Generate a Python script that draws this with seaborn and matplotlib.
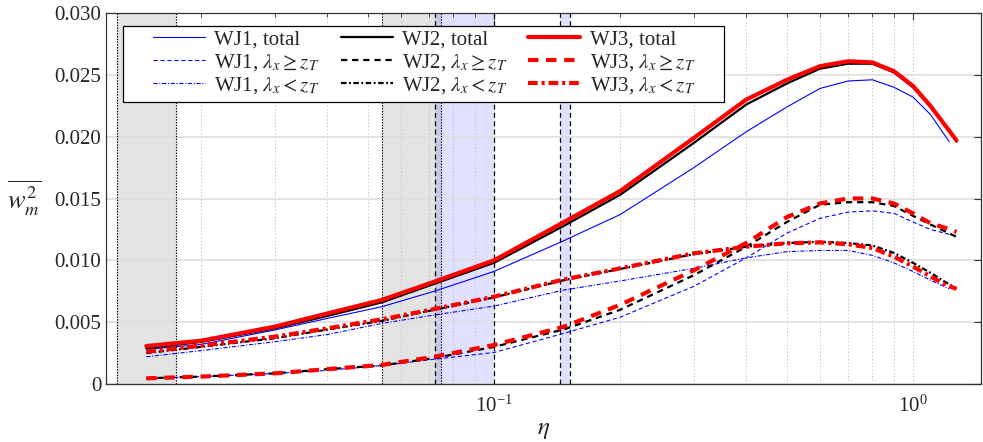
import numpy as np
import pandas as pd
import matplotlib
matplotlib.use("Agg")
import matplotlib.pyplot as plt
import seaborn as sns
from matplotlib.patches import Rectangle
from matplotlib.ticker import FixedLocator, FuncFormatter, LogLocator, NullFormatter

sns.set_style("white")
plt.rcParams["font.family"] = ["Liberation Serif", "DejaVu Serif"]
plt.rcParams["mathtext.fontset"] = "stix"
plt.rcParams["lines.scale_dashes"] = False

# ---------------- data ----------------
eta_23 = [0.0148, 0.02, 0.03, 0.04, 0.054, 0.072, 0.1, 0.147, 0.2, 0.3, 0.4,
          0.5, 0.6, 0.7, 0.8, 0.9, 1.0, 1.1, 1.2, 1.27]
eta_1 = [0.0148, 0.02, 0.03, 0.04, 0.054, 0.072, 0.1, 0.147, 0.2, 0.3, 0.4,
         0.5, 0.6, 0.7, 0.8, 0.9, 1.0, 1.1, 1.22]

wj1_total = [0.0028, 0.0032, 0.00437, 0.0053, 0.00625, 0.0075, 0.0091, 0.0116,
             0.0137, 0.0175, 0.0204, 0.0224, 0.0239, 0.0245, 0.0246, 0.0240,
             0.0232, 0.0218, 0.0196]
wj1_large = [0.00046, 0.0006, 0.00085, 0.0011, 0.0015, 0.0020, 0.00255, 0.0041,
             0.0054, 0.0079, 0.0102, 0.0122, 0.0134, 0.0139, 0.0140, 0.0138,
             0.0131, 0.0125, 0.0121]
wj1_small = [0.0022, 0.0027, 0.00342, 0.0040, 0.0049, 0.00558, 0.0063, 0.0076,
             0.00833, 0.00935, 0.0102, 0.0107, 0.0108, 0.0108, 0.0104, 0.0098,
             0.0091, 0.0084, 0.0077]

wj2_total = [0.00289, 0.0034, 0.0045, 0.0055, 0.0066, 0.0081, 0.0098, 0.0128,
             0.0153, 0.0195, 0.0226, 0.0243, 0.0255, 0.0259, 0.0259, 0.0252,
             0.0240, 0.0224, 0.0208, 0.0196]
wj2_large = [0.00046, 0.0006, 0.00086, 0.0012, 0.0015, 0.0021, 0.0030, 0.00442,
             0.0060, 0.0088, 0.0111, 0.0131, 0.0145, 0.0147, 0.0147, 0.0144,
             0.0136, 0.0129, 0.0123, 0.0119]
wj2_small = [0.0025, 0.0030, 0.0037, 0.0044, 0.0051, 0.0060, 0.0070, 0.0084,
             0.0093, 0.0105, 0.0111, 0.0114, 0.0115, 0.0114, 0.0112, 0.0106,
             0.0098, 0.0090, 0.0082, 0.0077]

wj3_total = [0.00307, 0.0035, 0.00464, 0.0057, 0.0068, 0.00827, 0.0100, 0.0131,
             0.0156, 0.0199, 0.0230, 0.0246, 0.0257, 0.0261, 0.0260, 0.0253,
             0.0241, 0.0225, 0.0208, 0.0197]
wj3_large = [0.00046, 0.0006, 0.00086, 0.0012, 0.00154, 0.0022, 0.00315, 0.00464,
             0.0064, 0.0092, 0.0114, 0.0135, 0.0146, 0.0150, 0.0150, 0.0146,
             0.0138, 0.0130, 0.0126, 0.0123]
wj3_small = [0.00262, 0.0031, 0.00383, 0.0045, 0.00523, 0.00606, 0.00706, 0.00846,
             0.00935, 0.01057, 0.0111, 0.01138, 0.01145, 0.0113, 0.0110, 0.0103,
             0.0095, 0.0087, 0.0080, 0.0077]

gray_bands = [(0.01259, 0.01742), (0.0541, 0.0747)]
blue_bands = [(0.0723, 0.1002), (0.1437, 0.1518)]

y_ticks = [0, 0.005, 0.010, 0.015, 0.020, 0.025, 0.030]

labels = ["WJ1, total", r"WJ1, $\lambda_x \geq z_T$", r"WJ1, $\lambda_x < z_T$",
          "WJ2, total", r"WJ2, $\lambda_x \geq z_T$", r"WJ2, $\lambda_x < z_T$",
          "WJ3, total", r"WJ3, $\lambda_x \geq z_T$", r"WJ3, $\lambda_x < z_T$"]

# ---------------- figure ----------------
W, H = 983, 442
AX_L, AX_R, AX_T, AX_B = 106, 981, 13, 384
fig = plt.figure(figsize=(W / 100, H / 100), dpi=100)
ax = fig.add_axes([AX_L / W, 1 - AX_B / H, (AX_R - AX_L) / W, (AX_B - AX_T) / H])
ax.set_xscale("log")


def ax_frac(px, py):
    return ((px - AX_L) / (AX_R - AX_L), 1 - (py - AX_T) / (AX_B - AX_T))


for lo, hi in gray_bands:
    ax.axvspan(lo, hi, color="#e3e3e3", zorder=0, lw=0)
    for v in (lo, hi):
        ax.axvline(v, color="black", lw=0.8, ls=(0, (1, 1)), zorder=1)
for lo, hi in blue_bands:
    ax.axvspan(lo, hi, color=(0, 0, 1), alpha=0.12, zorder=0, lw=0)
    for v in (lo, hi):
        ax.axvline(v, color="black", lw=0.9, ls=(0, (3.5, 2.5)), zorder=1)

series = [
    (eta_1, wj1_total, "#0000ff", 0.8, "-"),
    (eta_1, wj1_large, "#0000ff", 0.8, (0, (3, 2))),
    (eta_1, wj1_small, "#0000ff", 0.8, (0, (3, 1.2, 0.8, 1.2))),
    (eta_23, wj2_total, "black", 1.6, "-"),
    (eta_23, wj2_large, "black", 1.6, (0, (4.5, 3.5))),
    (eta_23, wj2_small, "black", 1.6, (0, (4, 1.8, 1.3, 1.8))),
    (eta_23, wj3_total, "#ff0000", 3.0, "-"),
    (eta_23, wj3_large, "#ff0000", 3.0, (0, (7.5, 5.5))),
    (eta_23, wj3_small, "#ff0000", 3.0, (0, (7, 2.8, 2.2, 2.8))),
]

handles = []
for (x, y, c, lw, ls), lab in zip(series, labels):
    df = pd.DataFrame({"eta": x, "w": y})
    n_before = len(ax.lines)
    sns.lineplot(data=df, x="eta", y="w", ax=ax, color=c, lw=lw, linestyle=ls,
                 errorbar=None, zorder=3, legend=False)
    line = ax.lines[n_before]
    line.set_label(lab)
    line.set_solid_joinstyle("round")
    line.set_dash_joinstyle("round")
    handles.append(line)

ax.set_xlim(0.01186, 1.453)
ax.set_ylim(0, 0.030)

ax.yaxis.set_major_locator(FixedLocator(y_ticks))
ax.yaxis.set_major_formatter(FuncFormatter(lambda v, p: "0" if abs(v) < 1e-12 else f"{v:.3f}"))
ax.xaxis.set_major_locator(LogLocator(base=10))
ax.xaxis.set_minor_locator(LogLocator(base=10, subs=np.arange(2, 10)))
ax.xaxis.set_minor_formatter(NullFormatter())

ax.grid(True, axis="y", which="major", color="#dedede", lw=1.2, ls="-", zorder=0.5)
ax.grid(True, axis="x", which="both", color="#c4c4c4", lw=0.7, ls=(0, (1, 1.5)), zorder=0.5)
ax.set_axisbelow(True)

ax.tick_params(axis="both", which="both", direction="in", top=True, right=True,
               labelsize=15, color="#333333")
ax.tick_params(axis="both", which="major", length=5)
ax.tick_params(axis="x", which="minor", length=3)
ax.tick_params(axis="x", pad=8)
for s in ax.spines.values():
    s.set_color("#333333")
    s.set_linewidth(0.9)

ax.set_xlabel(r"$\eta$", fontsize=18, labelpad=2)
ax.set_ylabel(r"$\overline{w_m^2}$", fontsize=19, rotation=0, labelpad=22, va="center")

# legend box (MATLAB style, wide side padding)
x0, y0 = ax_frac(123, 102)
x1, y1 = ax_frac(724, 26)
box = Rectangle((x0, y0), x1 - x0, y1 - y0, transform=ax.transAxes,
                facecolor="white", edgecolor="black", lw=0.9, zorder=4)
ax.add_patch(box)

leg = ax.legend(handles=handles, ncol=3, loc="upper left",
                bbox_to_anchor=ax_frac(153, 30), fontsize=15, frameon=False,
                handlelength=2.5, handletextpad=0.45, columnspacing=1.0,
                labelspacing=0.1, borderpad=0.0, borderaxespad=0.0)
leg.set_zorder(5)

fig.savefig("out.png", dpi=100)
